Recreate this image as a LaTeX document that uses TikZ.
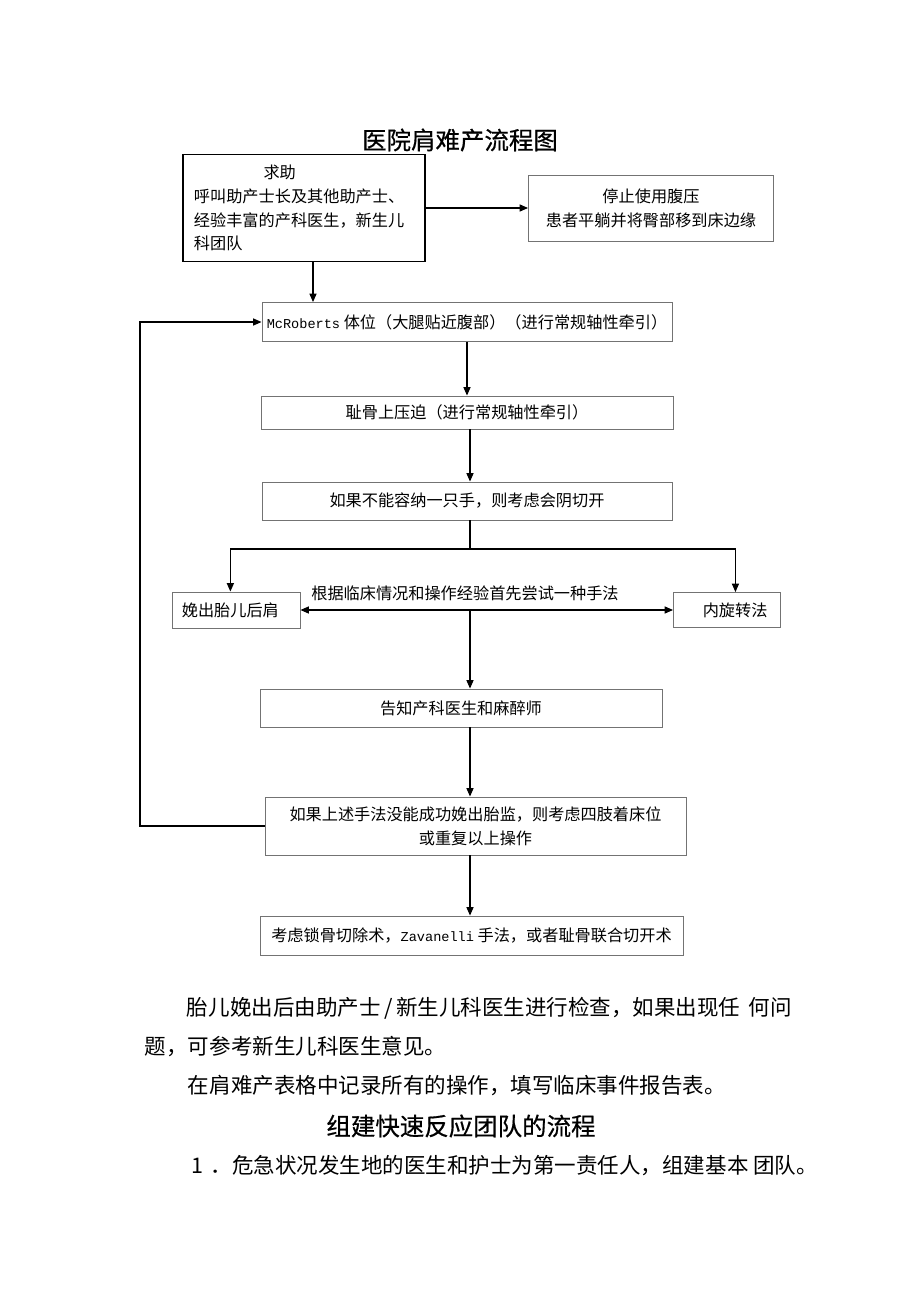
\documentclass[tikz,border=0pt]{standalone}
\usepackage{fontspec}
\setmainfont{Noto Sans CJK SC}
\newfontfamily\latinmono[Scale=0.84]{Liberation Mono}
\newfontfamily\titlefont[FakeBold=0.6]{Noto Sans CJK SC}
\usetikzlibrary{arrows.meta}

\begin{document}
\begin{tikzpicture}[x=0.025cm,y=-0.025cm,font=\fontsize{11.5}{17}\selectfont,
  box/.style={draw=black!55,line width=0.6pt,inner sep=0pt,align=center},
  link/.style={line width=0.9pt,-{Triangle[length=6pt,width=5pt]}},
  body/.style={anchor=west,font=\fontsize{15.3}{18}\selectfont},
  heading/.style={font=\titlefont\fontsize{17.4}{20}\selectfont}]
\useasboundingbox (0,0) rectangle (920,1301);
\coordinate (axis) at (470,0);
\coordinate (back) at (140,0);
\node[heading] (title) at (460,140) {医院肩难产流程图};
\node[box,draw=black,line width=1.2pt,minimum width=6.05cm,minimum height=2.675cm,text width=5.5cm,align=left] (help) at (304,208) {\hspace*{4.3em}求助\\呼叫助产士长及其他助产士、\\经验丰富的产科医生，新生儿\\科团队};
\node[box,minimum width=6.125cm,minimum height=1.65cm] (stop) at (651,208) {停止使用腹压\\患者平躺并将臀部移到床边缘};
\node[box,minimum width=10.25cm,minimum height=0.975cm] (mcr) at (467,322) {{\latinmono McRoberts} 体位（大腿贴近腹部）（进行常规轴性牵引）};
\node[box,minimum width=10.3cm,minimum height=0.825cm] (press) at (467,412.5) {耻骨上压迫（进行常规轴性牵引）};
\node[box,minimum width=10.25cm,minimum height=0.95cm] (episio) at (467,501) {如果不能容纳一只手，则考虑会阴切开};
\node[box,minimum width=3.2cm,minimum height=0.9cm] (deliver) at (236,610) {娩出胎儿后肩\hspace*{0.7em}};
\node[box,minimum width=2.675cm,minimum height=0.875cm] (rotate) at (727,610) {\hspace*{1em}内旋转法};
\node (choose) at (465,593) {根据临床情况和操作经验首先尝试一种手法};
\node[box,minimum width=10.05cm,minimum height=0.95cm] (inform) at (461,708) {告知产科医生和麻醉师};
\node[box,minimum width=10.525cm,minimum height=1.45cm] (repeat) at (475.5,826) {如果上述手法没能成功娩出胎监，则考虑四肢着床位\\或重复以上操作};
\node[box,minimum width=10.575cm,minimum height=0.975cm] (surgery) at (471.5,935.5) {考虑锁骨切除术，{\latinmono Zavanelli} 手法，或者耻骨联合切开术};
\coordinate (fork) at (470,549);
\draw[link] (help) -- (stop);
\draw[link] ([xshift=0.225cm]help.south) -- ([xshift=0.225cm]help.south |- mcr.north);
\draw[link] (mcr) -- (press);
\draw[link] (press.south -| axis) -- (episio.north -| axis);
\draw[line width=0.9pt] (episio.south -| axis) -- (fork);
\draw[link] (fork) -| ([xshift=-4pt]deliver.north);
\draw[link] (fork) -| ([xshift=6pt]rotate.north);
\draw[line width=0.9pt,{Triangle[length=6pt,width=5pt]}-{Triangle[length=6pt,width=5pt]}] (deliver.east) -- (rotate.west);
\draw[link] (axis |- deliver.east) -- (inform.north -| axis);
\draw[link] (inform.south -| axis) -- (repeat.north -| axis);
\draw[link] (repeat.south -| axis) -- (surgery.north -| axis);
\draw[link] (repeat.west) -- (repeat.west -| back) |- (mcr.west);
\node[body] (check) at (182,1008) {胎儿娩出后由助产士\,/\,新生儿科医生进行检查，如果出现任 \,何问};
\node[body] (advice) at (140,1047) {题，可参考新生儿科医生意见。};
\node[body] (record) at (183,1085) {在肩难产表格中记录所有的操作，填写临床事件报告表。};
\node[heading] (team) at (461,1126) {组建快速反应团队的流程};
\node[body] (first) at (183,1166) {\,1\,\,．危急状况发生地的医生和护士为第一责任人，组建基本 团队。};
\end{tikzpicture}
\end{document}
